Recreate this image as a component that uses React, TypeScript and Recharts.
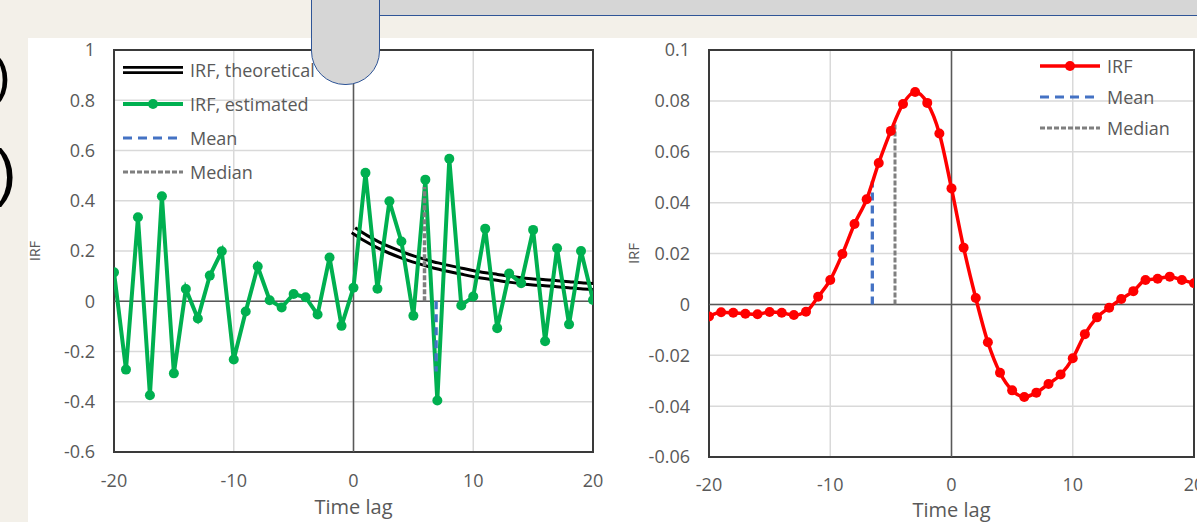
import React from 'react';
import {
  ComposedChart,
  Line,
  XAxis,
  YAxis,
  CartesianGrid,
  ReferenceLine,
  ReferenceArea,
  Legend,
} from 'recharts';

// ---------- data ----------
const lags = [
  -20, -19, -18, -17, -16, -15, -14, -13, -12, -11, -10, -9, -8, -7, -6, -5, -4, -3, -2, -1,
  0, 1, 2, 3, 4, 5, 6, 7, 8, 9, 10, 11, 12, 13, 14, 15, 16, 17, 18, 19, 20,
];
const irfEstimated = [
  0.115, -0.272, 0.334, -0.374, 0.418, -0.287, 0.049, -0.069, 0.102, 0.199,
  -0.232, -0.041, 0.138, 0.004, -0.025, 0.029, 0.016, -0.053, 0.174, -0.098,
  0.054, 0.511, 0.05, 0.398, 0.238, -0.058, 0.484, -0.395, 0.567, -0.017,
  0.019, 0.289, -0.107, 0.11, 0.072, 0.284, -0.159, 0.211, -0.092, 0.2, 0.005,
];
const theoLags = [0, 1, 2, 3, 4, 5, 6, 7, 8, 9, 10, 11, 12, 13, 14, 15, 16, 17, 18, 19, 20];
const irfTheoretical = [
  0.283, 0.252, 0.226, 0.204, 0.185, 0.168, 0.154, 0.141, 0.13, 0.12, 0.11,
  0.102, 0.095, 0.088, 0.082, 0.077, 0.074, 0.07, 0.066, 0.062, 0.059,
];
const leftMeanLag = 6.9;
const leftMeanValue = -0.28;
const leftMedianLag = 5.93;
const leftMedianValue = 0.455;

const irfRight = [
  -0.0048, -0.0031, -0.0033, -0.0037, -0.0039, -0.003, -0.0033, -0.0042, -0.0029, 0.003,
  0.0096, 0.0198, 0.0316, 0.0413, 0.0556, 0.0682, 0.0788, 0.0835, 0.0792, 0.0672,
  0.0456, 0.0223, 0.0025, -0.0149, -0.0269, -0.0338, -0.0364, -0.0347, -0.0313, -0.0276,
  -0.0212, -0.0117, -0.0051, -0.0013, 0.0021, 0.0052, 0.0096, 0.0101, 0.0109, 0.0096, 0.0083,
];
const rightMeanLag = -6.53;
const rightMeanValue = 0.0484;
const rightMedianLag = -4.66;
const rightMedianValue = 0.0716;

const xTicks = [-20, -10, 0, 10, 20];
const leftYTicks = [-0.6, -0.4, -0.2, 0, 0.2, 0.4, 0.6, 0.8, 1];
const rightYTicks = [-0.06, -0.04, -0.02, 0, 0.02, 0.04, 0.06, 0.08, 0.1];

// ---------- derived tables ----------
const estimatedData = lags.map((lag, i) => ({ lag, v: irfEstimated[i] }));
const theoData = theoLags.map((lag, i) => ({ lag, v: irfTheoretical[i] }));
const leftMeanData = [
  { lag: leftMeanLag, v: 0 },
  { lag: leftMeanLag, v: leftMeanValue },
];
const leftMedianData = [
  { lag: leftMedianLag, v: 0 },
  { lag: leftMedianLag, v: leftMedianValue },
];
const rightData = lags.map((lag, i) => ({ lag, v: irfRight[i] }));
const rightMeanData = [
  { lag: rightMeanLag, v: 0 },
  { lag: rightMeanLag, v: rightMeanValue },
];
const rightMedianData = [
  { lag: rightMedianLag, v: 0 },
  { lag: rightMedianLag, v: rightMedianValue },
];

// ---------- styles ----------
const FONT = '"Open Sans", "Noto Sans", sans-serif';
const TXT = '#595959';
const GREEN = '#00b050';
const RED = '#ff0000';
const BLUE = '#4472c4';
const GRAY = '#7f7f7f';
const GRID = '#d9d9d9';
const BORDER = '#3a3a3a';

const tickStyle = { fill: TXT, fontSize: 18, fontFamily: FONT };

const Sample = ({ kind }: { kind: string }) => (
  <svg width={60} height={16} style={{ display: 'block' }}>
    {kind === 'theo' && (
      <>
        <line x1={0} y1={8} x2={60} y2={8} stroke="#000" strokeWidth={8} />
        <line x1={0} y1={8} x2={60} y2={8} stroke="#fff" strokeWidth={2.5} />
      </>
    )}
    {kind === 'est' && (
      <>
        <line x1={0} y1={8} x2={60} y2={8} stroke={GREEN} strokeWidth={4} />
        <circle cx={30} cy={8} r={5} fill={GREEN} />
      </>
    )}
    {kind === 'irf' && (
      <>
        <line x1={0} y1={8} x2={60} y2={8} stroke={RED} strokeWidth={3.5} />
        <circle cx={30} cy={8} r={5} fill={RED} />
      </>
    )}
    {kind === 'mean' && (
      <line x1={0} y1={8} x2={60} y2={8} stroke={BLUE} strokeWidth={3} strokeDasharray="9 6" />
    )}
    {kind === 'median' && (
      <line x1={0} y1={8} x2={60} y2={8} stroke={GRAY} strokeWidth={3} strokeDasharray="5 2" />
    )}
  </svg>
);

const LegendBox = ({ items, rowH }: { items: { kind: string; label: string }[]; rowH: number }) => (
  <div style={{ fontFamily: FONT, fontSize: 18, color: TXT }}>
    {items.map((it) => (
      <div key={it.label} style={{ display: 'flex', alignItems: 'center', height: rowH, whiteSpace: 'nowrap' }}>
        <Sample kind={it.kind} />
        <span style={{ marginLeft: 7 }}>{it.label}</span>
      </div>
    ))}
  </div>
);

const leftLegendItems = [
  { kind: 'theo', label: 'IRF, theoretical' },
  { kind: 'est', label: 'IRF, estimated' },
  { kind: 'mean', label: 'Mean' },
  { kind: 'median', label: 'Median' },
];
const rightLegendItems = [
  { kind: 'irf', label: 'IRF' },
  { kind: 'mean', label: 'Mean' },
  { kind: 'median', label: 'Median' },
];

const LeftChart = () => (
  <ComposedChart width={580} height={484} margin={{ top: 12, right: 15, bottom: 0, left: 0 }}>
    <CartesianGrid stroke={GRID} strokeWidth={1.5} />
    <XAxis
      type="number"
      dataKey="lag"
      domain={[-20, 20]}
      ticks={xTicks}
      interval={0}
      axisLine={false}
      tickLine={false}
      tickSize={0}
      tickMargin={22}
      height={70}
      tick={tickStyle}
      allowDataOverflow
      label={{ value: 'Time lag', position: 'insideBottom', offset: 8, style: { fill: TXT, fontSize: 20, fontFamily: FONT } }}
    />
    <YAxis
      type="number"
      domain={[-0.6, 1]}
      ticks={leftYTicks}
      interval={0}
      axisLine={false}
      tickLine={false}
      tickSize={0}
      tickMargin={19}
      width={86}
      tick={tickStyle}
      allowDataOverflow
      label={{ value: 'IRF', angle: -90, position: 'insideLeft', offset: 7, style: { textAnchor: 'middle', fill: TXT, fontSize: 14, fontFamily: FONT } }}
    />
    <ReferenceLine x={0} stroke="#595959" strokeWidth={1.5} />
    <ReferenceLine y={0} stroke="#595959" strokeWidth={1.5} />
    <ReferenceArea x1={-20} x2={20} y1={-0.6} y2={1} fill="none" fillOpacity={0} stroke={BORDER} strokeWidth={2} />
    <Line data={theoData} dataKey="v" type="monotone" stroke="#000" strokeWidth={9} dot={false} isAnimationActive={false} legendType="none" />
    <Line data={theoData} dataKey="v" type="monotone" stroke="#fff" strokeWidth={3} dot={false} isAnimationActive={false} legendType="none" />
    <Line
      data={estimatedData}
      dataKey="v"
      type="linear"
      stroke={GREEN}
      strokeWidth={4}
      dot={{ r: 5, fill: GREEN, stroke: GREEN, strokeWidth: 0 }}
      isAnimationActive={false}
    />
    <Line data={leftMedianData} dataKey="v" type="linear" stroke={GRAY} strokeWidth={3.5} strokeDasharray="5 2" dot={false} isAnimationActive={false} />
    <Line data={leftMeanData} dataKey="v" type="linear" stroke={BLUE} strokeWidth={3.3} strokeDasharray="8 5" dot={false} isAnimationActive={false} />
    <Legend
      verticalAlign="middle"
      layout="horizontal"
      content={() => <LegendBox items={leftLegendItems} rowH={34} />}
      wrapperStyle={{ top: 15, left: 95, width: 'auto', height: 'auto' }}
    />
  </ComposedChart>
);

const RightChart = () => (
  <ComposedChart width={609} height={484} margin={{ top: 12, right: 15, bottom: 0, left: 0 }}>
    <CartesianGrid stroke={GRID} strokeWidth={1.5} />
    <XAxis
      type="number"
      dataKey="lag"
      domain={[-20, 20]}
      ticks={xTicks}
      interval={0}
      axisLine={false}
      tickLine={false}
      tickSize={0}
      tickMargin={21}
      height={65}
      tick={tickStyle}
      allowDataOverflow
      label={{ value: 'Time lag', position: 'insideBottom', offset: 5, style: { fill: TXT, fontSize: 20, fontFamily: FONT } }}
    />
    <YAxis
      type="number"
      domain={[-0.06, 0.1]}
      ticks={rightYTicks}
      interval={0}
      axisLine={false}
      tickLine={false}
      tickSize={0}
      tickMargin={19}
      width={109}
      tick={tickStyle}
      allowDataOverflow
      label={{ value: 'IRF', angle: -90, position: 'insideLeft', offset: 34, style: { textAnchor: 'middle', fill: TXT, fontSize: 15, fontFamily: FONT } }}
    />
    <ReferenceLine x={0} stroke="#595959" strokeWidth={1.5} />
    <ReferenceLine y={0} stroke="#595959" strokeWidth={1.5} />
    <ReferenceArea x1={-20} x2={20} y1={-0.06} y2={0.1} fill="none" fillOpacity={0} stroke={BORDER} strokeWidth={2} />
    <Line data={rightMedianData} dataKey="v" type="linear" stroke={GRAY} strokeWidth={3} strokeDasharray="5 2" dot={false} isAnimationActive={false} />
    <Line data={rightMeanData} dataKey="v" type="linear" stroke={BLUE} strokeWidth={3.3} strokeDasharray="8 5" dot={false} isAnimationActive={false} />
    <Line
      data={rightData}
      dataKey="v"
      type="monotone"
      stroke={RED}
      strokeWidth={3.5}
      dot={{ r: 5, fill: RED, stroke: RED, strokeWidth: 0 }}
      isAnimationActive={false}
    />
    <Legend
      verticalAlign="middle"
      layout="horizontal"
      content={() => <LegendBox items={rightLegendItems} rowH={31} />}
      wrapperStyle={{ top: 12, left: 440, width: 'auto', height: 'auto' }}
    />
  </ComposedChart>
);

export default function App() {
  return (
    <div
      style={{
        position: 'fixed',
        left: 0,
        top: 0,
        width: 1197,
        height: 522,
        overflow: 'hidden',
        background: '#f3f0e9',
      }}
    >
      <div style={{ position: 'absolute', left: 28, top: 38, right: 0, bottom: 0, background: '#ffffff' }} />
      <div
        style={{
          position: 'absolute',
          left: 370,
          top: -2,
          width: 900,
          height: 17,
          background: '#d6d6d6',
          borderBottom: '1.5px solid #2f5597',
        }}
      />
      <svg width={28} height={522} style={{ position: 'absolute', left: 0, top: 0 }}>
        <text x={-7} y={94} fontSize={53} fontFamily="Liberation Sans, sans-serif" fill="#000">)</text>
        <text x={-4.5} y={194} fontSize={63} fontFamily="Liberation Sans, sans-serif" fill="#000">)</text>
      </svg>
      <div style={{ position: 'absolute', left: 28, top: 38 }}>
        <LeftChart />
      </div>
      <div style={{ position: 'absolute', left: 600, top: 38 }}>
        <RightChart />
      </div>
      <div
        style={{
          position: 'absolute',
          left: 311,
          top: -40,
          width: 67,
          height: 123,
          background: '#d6d6d6',
          border: '1.5px solid #2f5597',
          borderRadius: '0 0 34px 34px',
          zIndex: 5,
        }}
      />
    </div>
  );
}
